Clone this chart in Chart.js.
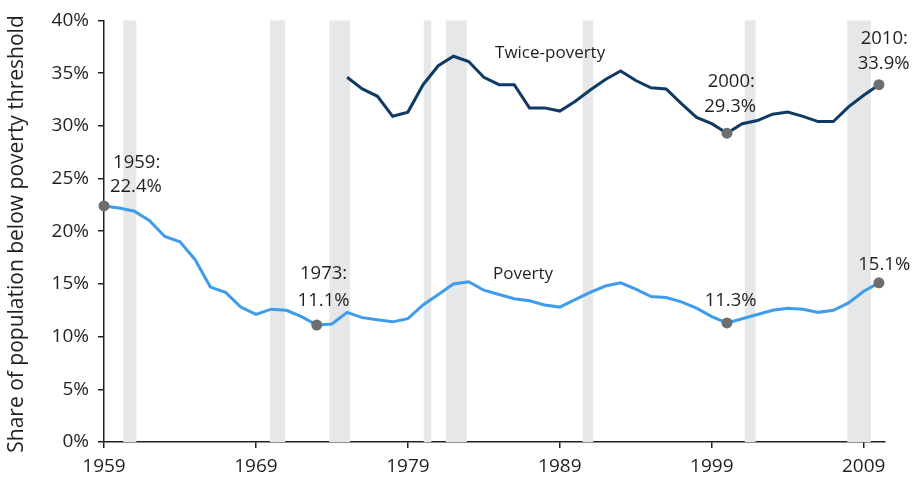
<!DOCTYPE html>
<html>
<head>
<meta charset="utf-8">
<script src="https://cdn.jsdelivr.net/npm/chart.js@4.4.1/dist/chart.umd.min.js"></script>
<style>
  html, body { margin: 0; padding: 0; background: #ffffff; }
  #wrap { width: 917px; height: 478px; position: relative; }
</style>
</head>
<body>
<div id="wrap"><canvas id="c" width="917" height="478"></canvas></div>
<script>
// ---- Data ----
const povertyYears = [1959,1960,1961,1962,1963,1964,1965,1966,1967,1968,1969,1970,1971,1972,1973,1974,1975,1976,1977,1978,1979,1980,1981,1982,1983,1984,1985,1986,1987,1988,1989,1990,1991,1992,1993,1994,1995,1996,1997,1998,1999,2000,2001,2002,2003,2004,2005,2006,2007,2008,2009,2010];
const povertyRate = [22.4,22.2,21.9,21.0,19.5,19.0,17.3,14.7,14.2,12.8,12.1,12.6,12.5,11.9,11.1,11.2,12.3,11.8,11.6,11.4,11.7,13.0,14.0,15.0,15.2,14.4,14.0,13.6,13.4,13.0,12.8,13.5,14.2,14.8,15.1,14.5,13.8,13.7,13.3,12.7,11.9,11.3,11.7,12.1,12.5,12.7,12.6,12.3,12.5,13.2,14.3,15.1];
const twiceYears = [1975,1976,1977,1978,1979,1980,1981,1982,1983,1984,1985,1986,1987,1988,1989,1990,1991,1992,1993,1994,1995,1996,1997,1998,1999,2000,2001,2002,2003,2004,2005,2006,2007,2008,2009,2010];
const twicePovertyRate = [34.6,33.5,32.8,30.9,31.3,33.9,35.7,36.6,36.1,34.6,33.9,33.9,31.7,31.7,31.4,32.3,33.4,34.4,35.2,34.3,33.6,33.5,32.1,30.8,30.2,29.3,30.2,30.5,31.1,31.3,30.9,30.4,30.4,31.8,32.9,33.9];
const highlightYearsPoverty = [1959,1973,2000,2010];
const highlightYearsTwice = [2000,2010];
const recessionStart = [1960.27,1969.92,1973.83,1980.04,1981.5,1990.5,2001.17,2007.92];
const recessionEnd   = [1961.13,1970.92,1975.2,1980.54,1982.88,1991.2,2001.88,2009.47];
const xTickYears = [1959,1969,1979,1989,1999,2009];
const yTickValues = [0,5,10,15,20,25,30,35,40];
const yAxisTitle = "Share of population below poverty threshold";
// Annotation texts anchored in data space (year, value)
const annotations = [
  {text:"1959:", year:1961.15, value:26.45, kind:"num"},
  {text:"22.4%", year:1961.1, value:24.25, kind:"num"},
  {text:"1973:", year:1973.45, value:15.95, kind:"num"},
  {text:"11.1%", year:1973.45, value:13.4, kind:"num"},
  {text:"Twice-poverty", year:1988.36, value:36.86, kind:"word"},
  {text:"Poverty", year:1986.58, value:15.97, kind:"word"},
  {text:"2000:", year:2000.28, value:34.19, kind:"num"},
  {text:"29.3%", year:2000.21, value:31.8, kind:"num"},
  {text:"2010:", year:2010.35, value:38.25, kind:"num"},
  {text:"33.9%", year:2010.31, value:35.9, kind:"num"},
  {text:"11.3%", year:2000.24, value:13.4, kind:"num"},
  {text:"15.1%", year:2010.35, value:16.8, kind:"num"}
];

// ---- Styles ----
const FONT = "'Open Sans', 'Noto Sans', sans-serif";
const INK = '#231f20';
const POV_COLOR = '#3f9cec';
const TWICE_COLOR = '#0e3a63';
const DOT_COLOR = '#6d6e71';
const REC_COLOR = '#e6e7e8';

const povertyData = povertyYears.map((y, i) => ({x: y, y: povertyRate[i]}));
const twiceData = twiceYears.map((y, i) => ({x: y, y: twicePovertyRate[i]}));

const recessionPlugin = {
  id: 'recessions',
  beforeDatasetsDraw(chart) {
    const {ctx, chartArea, scales} = chart;
    ctx.save();
    ctx.fillStyle = REC_COLOR;
    for (let i = 0; i < recessionStart.length; i++) {
      const x0 = scales.x.getPixelForValue(recessionStart[i]);
      const x1 = scales.x.getPixelForValue(recessionEnd[i]);
      ctx.fillRect(x0, chartArea.top, x1 - x0, chartArea.bottom - chartArea.top);
    }
    ctx.restore();
  }
};

const annotationPlugin = {
  id: 'annots',
  afterDatasetsDraw(chart) {
    const {ctx, scales} = chart;
    ctx.save();
    ctx.fillStyle = INK;
    ctx.textAlign = 'center';
    ctx.textBaseline = 'middle';
    annotations.forEach(a => {
      ctx.font = (a.kind === 'word' ? '17px ' : '18.5px ') + FONT;
      ctx.fillText(a.text, scales.x.getPixelForValue(a.year), scales.y.getPixelForValue(a.value));
    });
    ctx.restore();
  }
};

const yTitlePlugin = {
  id: 'ytitle',
  afterDraw(chart) {
    const {ctx} = chart;
    ctx.save();
    ctx.fillStyle = INK;
    ctx.font = '21px ' + FONT;
    ctx.textAlign = 'center';
    ctx.textBaseline = 'middle';
    ctx.translate(17, 234);
    ctx.rotate(-Math.PI / 2);
    ctx.fillText(yAxisTitle, 0, 0);
    ctx.restore();
  }
};

function pointRadiusFor(list) {
  return ctx => (list.includes(ctx.raw && ctx.raw.x) ? 5.5 : 0);
}

new Chart(document.getElementById('c'), {
  type: 'line',
  data: {
    datasets: [
      {
        label: 'Twice-poverty',
        data: twiceData,
        borderColor: TWICE_COLOR,
        borderWidth: 3,
        tension: 0,
        pointRadius: pointRadiusFor(highlightYearsTwice),
        pointBackgroundColor: DOT_COLOR,
        pointBorderWidth: 0,
        pointHoverRadius: 0
      },
      {
        label: 'Poverty',
        data: povertyData,
        borderColor: POV_COLOR,
        borderWidth: 3,
        tension: 0,
        pointRadius: pointRadiusFor(highlightYearsPoverty),
        pointBackgroundColor: DOT_COLOR,
        pointBorderWidth: 0,
        pointHoverRadius: 0
      }
    ]
  },
  options: {
    responsive: false,
    animation: false,
    events: [],
    clip: false,
    layout: { padding: { top: 18, right: 32, left: 0, bottom: 0 } },
    plugins: { legend: { display: false }, tooltip: { enabled: false }, title: { display: false } },
    scales: {
      x: {
        type: 'linear',
        min: 1959,
        max: 2010.4,
        afterFit(scale) { scale.height = 36; },
        afterBuildTicks(scale) { scale.ticks = xTickYears.map(v => ({value: v})); },
        ticks: {
          callback: v => String(v),
          color: INK,
          font: { family: FONT, size: 19 },
          padding: 7,
          maxRotation: 0,
          autoSkip: false
        },
        grid: { drawOnChartArea: false, color: INK, tickLength: 6, lineWidth: 1.5 },
        border: { display: true, color: INK, width: 1.5 }
      },
      y: {
        min: 0,
        max: 40,
        afterFit(scale) { scale.width = 104; },
        afterBuildTicks(scale) { scale.ticks = yTickValues.map(v => ({value: v})); },
        ticks: {
          callback: v => v + '%',
          color: INK,
          font: { family: FONT, size: 19 },
          padding: 9
        },
        grid: { drawOnChartArea: false, color: INK, tickLength: 6, lineWidth: 1.5 },
        border: { display: true, color: INK, width: 1.5 }
      }
    }
  },
  plugins: [recessionPlugin, annotationPlugin, yTitlePlugin]
});
</script>
</body>
</html>
